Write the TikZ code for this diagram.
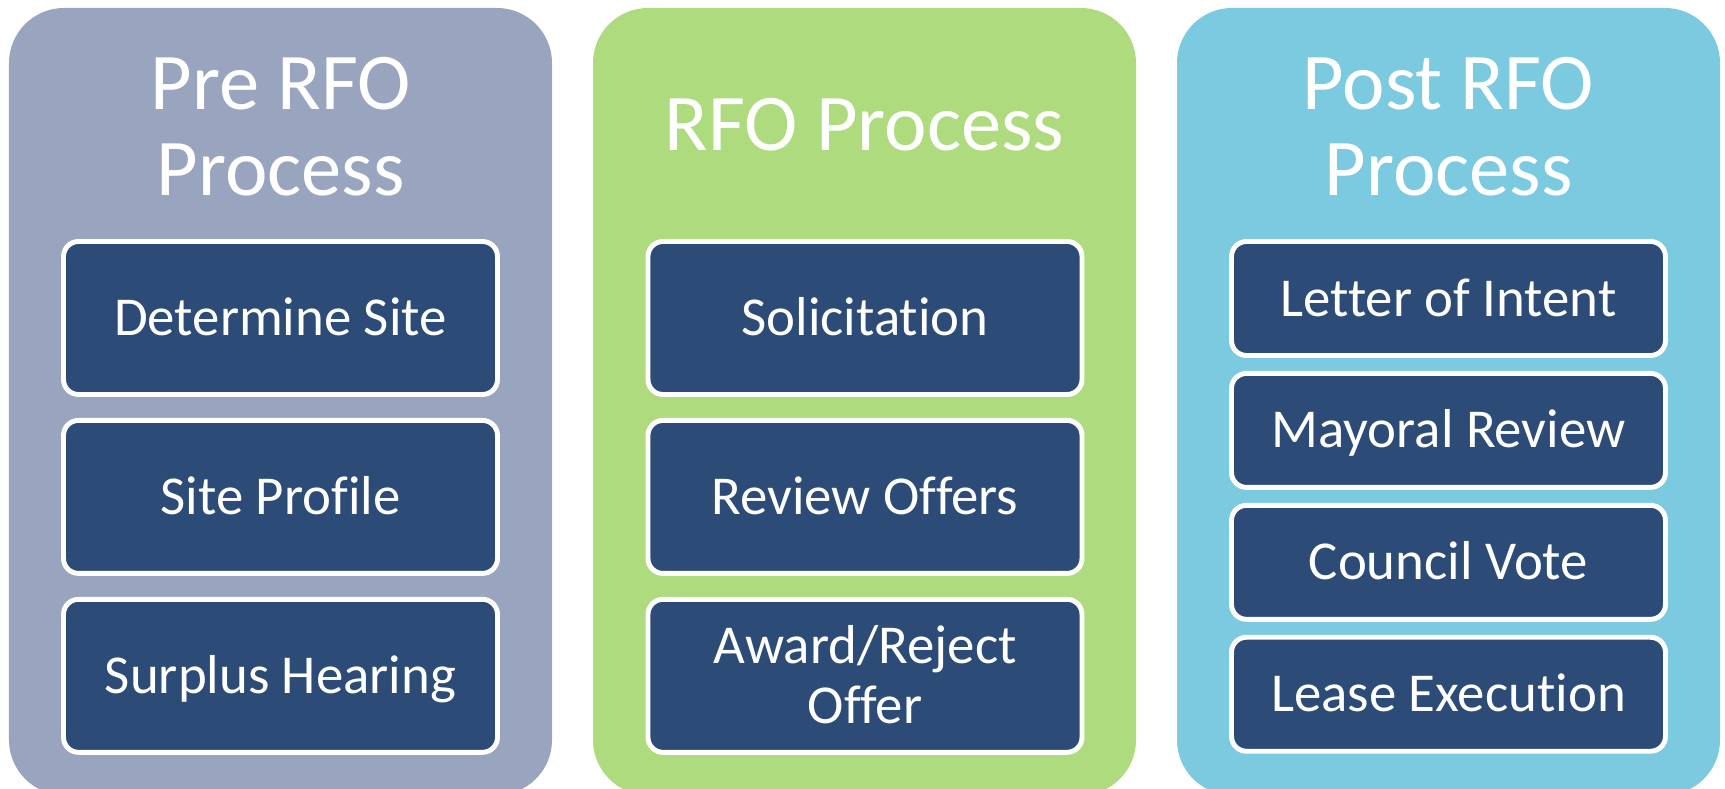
\documentclass[tikz,border=0pt]{standalone}
\usepackage{fontspec}
\setmainfont{Carlito}[Ligatures=NoCommon]
\usetikzlibrary{positioning}
\definecolor{prefill}{HTML}{99A5BF}
\definecolor{rfofill}{HTML}{AEDB7E}
\definecolor{postfill}{HTML}{7BCAE0}
\definecolor{stepblue}{HTML}{2C4C77}

\begin{document}
\begin{tikzpicture}[
  panel/.style={rounded corners=0.55cm},
  heading/.style={text=white, align=center, inner sep=0pt,
    font=\fontsize{22.9}{24.4}\selectfont},
  stepbox/.style={draw=white, line width=1.4pt, fill=stepblue,
    rounded corners=0.15cm, minimum width=4.34cm, minimum height=1.53cm,
    inner sep=0pt, text=white, align=center, text height=10pt, text depth=0pt,
    font=\fontsize{15.6}{17}\selectfont},
  shortbox/.style={stepbox, minimum height=1.14cm},
  node distance=0.21cm]
\useasboundingbox (0,0) rectangle (17.25,-7.89);

\foreach \x/\c in {0.09/prefill, 5.93/rfofill, 11.77/postfill}
    \fill[\c, panel] (\x,-0.08) rectangle ++(5.43,-7.87);

\node[heading] (pretitle) at (2.805,-1.27) {Pre RFO\\Process};
\node[heading] (rfotitle) at (8.645,-1.25) {RFO Process};
\node[heading] (posttitle) at (14.485,-1.27) {Post RFO\\Process};

\node[stepbox] (site) at (2.805,-3.18) {Determine Site};
\node[stepbox, below=of site] (profile) {Site Profile};
\node[stepbox, below=of profile] (hearing) {Surplus Hearing};

\node[stepbox] (solicit) at (8.65,-3.18) {Solicitation};
\node[stepbox, below=of solicit] (review) {Review Offers};
\node[stepbox, below=of review, text height=27pt] (award) {Award/Reject\\Offer};

\node[shortbox] (intent) at (14.485,-2.985) {Letter of Intent};
\node[shortbox, below=0.13cm of intent] (mayoral) {Mayoral Review};
\node[shortbox, below=0.13cm of mayoral] (vote) {Council Vote};
\node[shortbox, below=0.13cm of vote] (lease) {Lease Execution};

\end{tikzpicture}
\end{document}
